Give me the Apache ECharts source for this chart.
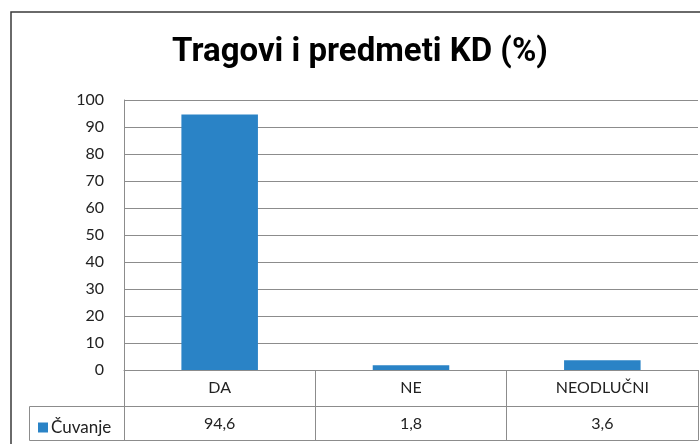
<!DOCTYPE html>
<html>
<head>
<meta charset="utf-8">
<script src="https://cdn.jsdelivr.net/npm/echarts@6/dist/echarts.min.js"></script>
<style>
html,body{margin:0;padding:0;background:#fff;}
#chart{width:700px;height:444px;}
</style>
</head>
<body>
<div id="chart"></div>
<script>
const title = 'Tragovi i predmeti KD (%)';
const categories = ['DA', 'NE', 'NEODLUČNI'];
const seriesName = 'Čuvanje';
const values = [94.6, 1.8, 3.6];
const yTicks = [0, 10, 20, 30, 40, 50, 60, 70, 80, 90, 100];

const FONT = 'Lato';
const GRID_COLOR = '#8c8c8c';
const TEXT_COLOR = '#222222';
const BAR_COLOR = '#2a83c6';

const fmt = v => String(v).replace('.', ',');

const chart = echarts.init(document.getElementById('chart'), null, {renderer: 'canvas'});
chart.setOption({
  animation: false,
  backgroundColor: '#ffffff',
  textStyle: {fontFamily: FONT},
  title: {
    text: title,
    left: 355,
    top: 31,
    textAlign: 'center',
    textStyle: {fontFamily: 'Roboto', fontWeight: 'bold', fontSize: 33, color: '#000000'}
  },
  legend: {
    data: [seriesName],
    left: 33,
    top: 414,
    icon: 'rect',
    itemWidth: 10,
    itemHeight: 10,
    itemGap: 4,
    textStyle: {fontFamily: FONT, fontSize: 17, color: TEXT_COLOR, padding: [0, 0, 0, -2]}
  },
  grid: {left: 124, right: 2, top: 100, bottom: 74, containLabel: false},
  xAxis: [
    {
      type: 'category',
      data: categories,
      position: 'bottom',
      boundaryGap: true,
      axisLine: {show: true, lineStyle: {color: GRID_COLOR, width: 1}},
      axisTick: {show: true, length: 70, alignWithLabel: false, lineStyle: {color: GRID_COLOR, width: 1}},
      axisLabel: {margin: 10, fontFamily: FONT, fontSize: 16, color: TEXT_COLOR}
    },
    {
      type: 'category',
      data: values.map(fmt),
      position: 'bottom',
      offset: 36,
      axisLine: {show: true, lineStyle: {color: GRID_COLOR, width: 1}},
      axisTick: {show: false},
      axisLabel: {margin: 10, fontFamily: FONT, fontSize: 16, color: TEXT_COLOR}
    },
    {
      type: 'category',
      data: categories,
      position: 'bottom',
      offset: 70,
      axisLine: {show: true, lineStyle: {color: GRID_COLOR, width: 1}},
      axisTick: {show: false},
      axisLabel: {show: false}
    }
  ],
  yAxis: {
    type: 'value',
    min: yTicks[0],
    max: yTicks[yTicks.length - 1],
    interval: yTicks[1] - yTicks[0],
    axisLine: {show: true, lineStyle: {color: GRID_COLOR, width: 1}},
    axisTick: {show: false},
    axisLabel: {margin: 20, fontFamily: FONT, fontSize: 16, color: TEXT_COLOR},
    splitLine: {show: true, lineStyle: {color: GRID_COLOR, width: 1}}
  },
  series: [{
    name: seriesName,
    type: 'bar',
    data: values,
    xAxisIndex: 0,
    barWidth: '40%',
    itemStyle: {color: BAR_COLOR}
  }],
  graphic: [
    {
      type: 'rect',
      shape: {x: 11, y: 12, width: 720, height: 460},
      style: {fill: null, stroke: '#3a3a3a', lineWidth: 1.5},
      silent: true
    },
    {
      type: 'polyline',
      shape: {points: [[124, 406.5], [29.5, 406.5], [29.5, 440.5], [124, 440.5]]},
      style: {fill: null, stroke: GRID_COLOR, lineWidth: 1},
      silent: true
    }
  ]
});
</script>
</body>
</html>
